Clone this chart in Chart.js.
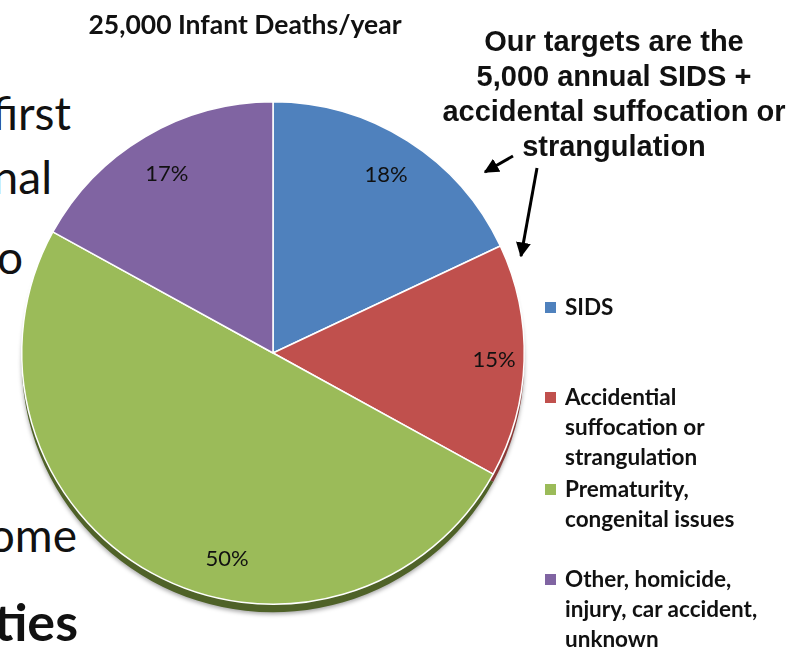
<!DOCTYPE html>
<html>
<head>
<meta charset="utf-8">
<script src="https://cdn.jsdelivr.net/npm/chart.js@4.4.1/dist/chart.umd.min.js"></script>
<style>
  html, body { margin: 0; padding: 0; background: #fff; }
  #wrap { position: relative; width: 792px; height: 648px; overflow: hidden; }
  #pieChart { position: absolute; left: 0; top: 0; }
  .slide { position: absolute; font-family: Lato, sans-serif; font-size: 46px; color: #111; white-space: nowrap; line-height: 1; }
  #title { position: absolute; left: 45px; width: 400px; top: 8px; text-align: center;
           font: bold 26.5px Lato, sans-serif; color: #111; }
  #note { position: absolute; left: 414px; width: 400px; top: 24px; text-align: center;
          font: bold 29px "Liberation Sans", Arial, sans-serif; line-height: 35px; color: #111; }
  #legend { position: absolute; left: 545px; top: 0; font: bold 22.5px Lato, sans-serif; color: #111; }
  .item { position: absolute; left: 0; white-space: nowrap; line-height: 30px; }
  .item i { position: absolute; left: 0; top: 10px; width: 11px; height: 11px; }
  .item span { position: absolute; left: 20px; top: 0; }
  #arrows { position: absolute; left: 0; top: 0; }
</style>
</head>
<body>
<div id="wrap">
  <div class="slide" style="right:721px; top:90px;">first</div>
  <div class="slide" style="right:740px; top:154px;">nal</div>
  <div class="slide" style="right:769px; top:234px;">o</div>
  <div class="slide" style="right:715px; top:512px;">ome</div>
  <div class="slide" style="right:714px; top:595px; font-weight:bold; font-size:52px;">ties</div>
  <canvas id="pieChart" width="792" height="648"></canvas>
  <div id="title">25,000 Infant Deaths/year</div>
  <div id="note">Our targets are the<br>5,000 annual SIDS +<br>accidental suffocation or<br>strangulation</div>
  <svg id="arrows" width="792" height="648">
    <defs>
      <marker id="head" viewBox="0 0 10 10" refX="9" refY="5" markerWidth="5" markerHeight="5" orient="auto">
        <path d="M0,0 L10,5 L0,10 z" fill="#000"/>
      </marker>
    </defs>
    <line x1="513" y1="156" x2="485" y2="172" stroke="#000" stroke-width="3" marker-end="url(#head)"/>
    <line x1="537" y1="168" x2="521" y2="256" stroke="#000" stroke-width="3" marker-end="url(#head)"/>
  </svg>
  <div id="legend"></div>
</div>
<script>
const categories = [
    ['SIDS'],
    ['Accidential', 'suffocation or', 'strangulation'],
    ['Prematurity,', 'congenital issues'],
    ['Other, homicide,', 'injury, car accident,', 'unknown']
];
const shares = [18, 15, 50, 17];

const sliceColors = ['#4F81BD', '#C0504D', '#9BBB59', '#8064A2'];
const rimColors = ['#3a5f8c', '#8a3a37', '#4F6228', '#5e4a78'];
const labelAnchor = [0.5, 0.5, 0.41, 0.5];
const labelRadius = [0.84, 0.88, 0.84, 0.83];
const legendTops = [292, 382, 474, 564];
const rimDepth = 8;

// legend built from the same arrays
const legendBox = document.getElementById('legend');
categories.forEach((lines, i) => {
    const item = document.createElement('div');
    item.className = 'item';
    item.style.top = legendTops[i] + 'px';
    item.innerHTML = '<i style="background:' + sliceColors[i] + '"></i><span>' + lines.join('<br>') + '</span>';
    legendBox.appendChild(item);
});

const rimPlugin = {
    id: 'rim',
    beforeDatasetsDraw(chart) {
        const ctx = chart.ctx;
        const meta = chart.getDatasetMeta(0);
        meta.data.forEach((arc, i) => {
            const p = arc.getProps(['x', 'y', 'startAngle', 'endAngle', 'outerRadius'], true);
            ctx.save();
            ctx.shadowColor = 'rgba(0,0,0,0.35)';
            ctx.shadowBlur = 4;
            ctx.shadowOffsetY = 2;
            ctx.beginPath();
            ctx.moveTo(p.x, p.y + rimDepth);
            ctx.arc(p.x, p.y + rimDepth, p.outerRadius, p.startAngle, p.endAngle);
            ctx.closePath();
            ctx.fillStyle = rimColors[i];
            ctx.fill();
            ctx.restore();
        });
    }
};

const labelPlugin = {
    id: 'sliceLabels',
    afterDatasetsDraw(chart) {
        const ctx = chart.ctx;
        const meta = chart.getDatasetMeta(0);
        ctx.save();
        ctx.font = '22px Lato, sans-serif';
        ctx.fillStyle = '#111';
        ctx.textAlign = 'center';
        ctx.textBaseline = 'middle';
        meta.data.forEach((arc, i) => {
            const p = arc.getProps(['x', 'y', 'startAngle', 'endAngle', 'outerRadius'], true);
            const a = p.startAngle + (p.endAngle - p.startAngle) * labelAnchor[i];
            const r = p.outerRadius * labelRadius[i];
            ctx.fillText(shares[i] + '%', p.x + Math.cos(a) * r, p.y + Math.sin(a) * r);
        });
        ctx.restore();
    }
};

const ctx = document.getElementById('pieChart').getContext('2d');
new Chart(ctx, {
    type: 'pie',
    data: {
        labels: categories.map(c => c.join(' ')),
        datasets: [{
            data: shares,
            backgroundColor: sliceColors,
            borderColor: '#ffffff',
            borderWidth: 1.5
        }]
    },
    options: {
        responsive: false,
        animation: false,
        layout: { padding: { left: 20, right: 266, top: 101, bottom: 43 } },
        plugins: {
            legend: { display: false },
            title: { display: false },
            tooltip: { enabled: false }
        }
    },
    plugins: [rimPlugin, labelPlugin]
});
</script>
</body>
</html>
